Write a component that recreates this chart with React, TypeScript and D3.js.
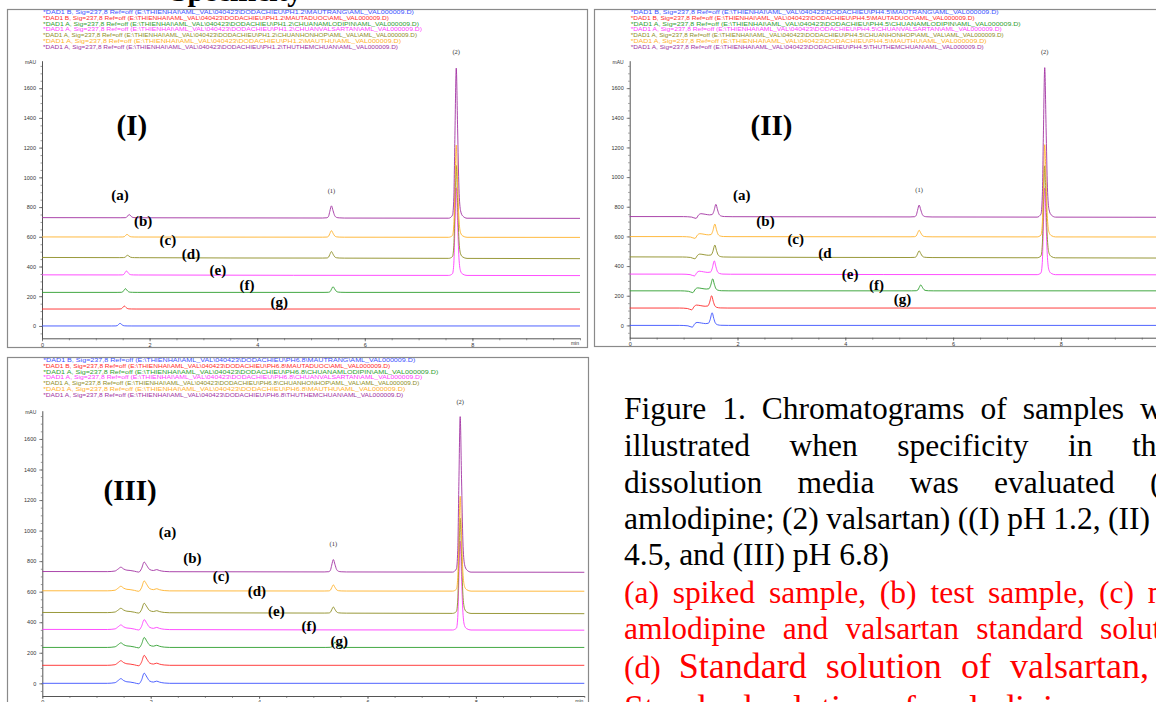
import React, { useEffect, useRef } from 'react';
import * as d3 from 'd3';

// samples, top trace to bottom trace
const SAMPLE_LABELS = ['(a)', '(b)', '(c)', '(d)', '(e)', '(f)', '(g)'];
const SAMPLE_COLORS = ['#a232a2', '#ffb22c', '#8e8e26', '#ff3cff', '#2f9e2f', '#ff2a2a', '#3c52ff'];
const SAMPLE_SIGNALS = ['DAD1 A', 'DAD1 A', 'DAD1 A', 'DAD1 A', 'DAD1 A', 'DAD1 B', 'DAD1 B'];
const SAMPLE_FILES = ['THUTHEMCHUAN', 'MAUTHU', 'CHUANHONHOP\\AML_VAL', 'CHUANVALSARTAN', 'CHUANAMLODIPIN', 'MAUTADUOC', 'MAUTRANG'];

const PANEL_NAMES = ['(I)', '(II)', '(III)'];
const PANEL_PH = ['1.2', '4.5', '6.8'];

// baseline offsets (mAU) per sample
const BASELINE_I = [729, 599, 461, 344, 226, 114, 0];
const BASELINE_II = [734, 599, 462, 346, 233, 117, 0];
const BASELINE_III = [732, 606, 464, 353, 235, 118, 0];
const DRIFT = [-5, -3, -8, -5, 0, 0, 0];

// peak (1) amlodipine
const RT1 = [5.38, 5.37, 5.37];
const H1_I = [82, 44, 44, 0, 38, 0, 0];
const H1_II = [80, 44, 45, 0, 40, 0, 0];
const H1_III = [81, 40, 40, 0, 35, 0, 0];

// peak (2) valsartan
const RT2 = [7.7, 7.7, 7.71];
const H2_I = [1010, 620, 625, 590, 0, 0, 0];
const H2_II = [1008, 622, 620, 585, 0, 0, 0];
const H2_III = [1018, 621, 623, 582, 0, 0, 0];

// early peaks
const RT_EARLY_I = [1.62, 1.58, 1.59, 1.57, 1.55, 1.53, 1.45];
const H_EARLY_I = [22, 18, 16, 27, 25, 20, 18];
const RT_EARLY_II = [1.6, 1.58, 1.58, 1.57, 1.54, 1.52, 1.53];
const H_EARLY_II = [83, 85, 81, 90, 81, 83, 85];
const SCALE_EARLY_III = [0.97, 1.0, 0.95, 1.0, 1.0, 1.0, 1.02];

// peak profile: [dt (min), fraction of height]
const PEAK_SHAPE = [[-0.14, 0], [-0.07, 0.02], [-0.045, 0.14], [-0.025, 0.55], [0, 1], [0.025, 0.6], [0.05, 0.2], [0.08, 0.05], [0.12, 0.015], [0.2, 0]];
// pH 4.5 front: [dt, mAU, fraction of peak]
const EARLY_SHAPE_II = [
  [-0.6, 0, 0], [-0.45, -3, 0], [-0.37, -12, 0], [-0.32, 12, 0], [-0.28, 20, 0], [-0.2, 16, 0],
  [-0.12, 12, 0], [-0.07, 10, 0.05], [-0.04, 6, 0.35], [0, 0, 1], [0.03, 0, 0.55], [0.06, 0, 0.18],
  [0.1, 0, 0.05], [0.16, 0, 0.01], [0.3, 0, 0]
];
// pH 6.8 front: [t, mAU]
const EARLY_SHAPE_III = [
  [1.2, 0], [1.34, 4], [1.4, 18], [1.45, 30], [1.5, 18], [1.56, 10], [1.62, 8], [1.7, 3], [1.78, -3],
  [1.83, 20], [1.88, 65], [1.93, 40], [1.98, 15], [2.05, 8], [2.11, 14], [2.16, 8], [2.25, 2], [2.35, 0]
];

// label anchors in data units [min, mAU]
const LABEL_POS_I = [[1.45, 882], [1.88, 707], [2.34, 579], [2.77, 485], [3.27, 377], [3.81, 276], [4.41, 162]];
const LABEL_POS_II = [[2.08, 880], [2.52, 707], [3.08, 584], [3.62, 489], [4.09, 348], [4.58, 274], [5.06, 180]];
const LABEL_POS_III = [[2.31, 992], [2.77, 822], [3.3, 704], [3.96, 604], [4.32, 475], [4.92, 377], [5.48, 279]];
const NAME_POS = [[1.67, 1353], [2.63, 1353], [1.62, 1264]];
const PEAK_LABEL_Y = [911, 1844];

const Y_TICKS = d3.range(0, 1601, 200);
const Y_MINOR = d3.range(-50, 1751, 50);
const X_TICKS = [0, 2, 4, 6, 8];
const X_MINOR = d3.range(0, 10.01, 0.5);

// caption lines; justified lines stretch their spaces so `to` word starts at its x
const CAPTION = [
  { y: 419, color: '#000', parts: [['Figure 1. Chromatograms of samples were', 31.5]], to: ['were', 1140] },
  { y: 456, color: '#000', parts: [['illustrated when specificity in the', 31.5]], to: ['the', 1132] },
  { y: 492.7, color: '#000', parts: [['dissolution media was evaluated ((1)', 31.5]], to: ['((1)', 1150] },
  { y: 529.3, color: '#000', parts: [['amlodipine; (2) valsartan) ((I) pH 1.2, (II) pH', 31.5]], to: ['(II)', 1108] },
  { y: 565, color: '#000', parts: [['4.5, and (III) pH 6.8)', 31.5]], to: null },
  { y: 602.7, color: '#ff0000', parts: [['(a) spiked sample, (b) test sample, (c) mixture', 31.5]], to: ['(c)', 1099] },
  { y: 639.3, color: '#ff0000', parts: [['amlodipine and valsartan standard solution,', 31.5]], to: ['solution,', 1100] },
  { y: 677.7, color: '#ff0000', parts: [['(d) ', 31.5], ['Standard solution of valsartan,', 36]], to: ['valsartan,', 1010] },
  { y: 720, color: '#ff0000', parts: [['Standard solution of amlodipine,', 36]], to: null }
];

const PANELS = [
  { box: [7, 9, 587, 347], x0: 42, x1: 580, yTop: 60.7, yBot: 338.3, base: BASELINE_I, h1: H1_I, h2: H2_I, labels: LABEL_POS_I, legendW: [371, 346, 376, 379, 374, 358, 355] },
  { box: [594, 9, 1170, 346], x0: 629.7, x1: 1168.7, yTop: 60.7, yBot: 337.7, base: BASELINE_II, h1: H1_II, h2: H2_II, labels: LABEL_POS_II, legendW: [368, 344, 390, 371, 373, 356, 353] },
  { box: [7, 357, 588, 712], x0: 42.3, x1: 584.3, yTop: 410.7, yBot: 696, base: BASELINE_III, h1: H1_III, h2: H2_III, labels: LABEL_POS_III, legendW: [372, 347, 395, 379, 376, 362, 360] }
];

function peakPoints(rt: number, h: number, widen = 1) {
  return PEAK_SHAPE.map(([dt, f]) => [rt + dt * widen, f * h]);
}

function tracePoints(p: number, i: number) {
  const P = PANELS[p];
  const b = P.base[i];
  let pts: number[][] = [[0, 0]];
  if (p === 0) {
    pts = pts.concat(peakPoints(RT_EARLY_I[i], H_EARLY_I[i], 1.1));
  } else if (p === 1) {
    pts = pts.concat(EARLY_SHAPE_II.map(([dt, v, f]) => [RT_EARLY_II[i] + dt, v + f * H_EARLY_II[i]]));
  } else {
    pts = pts.concat(EARLY_SHAPE_III.map(([t, v]) => [t, v * SCALE_EARLY_III[i]]));
  }
  if (P.h1[i] > 0) pts = pts.concat(peakPoints(RT1[p] + (i === 4 ? 0.03 : 0), P.h1[i], 1.2));
  if (P.h2[i] > 0) pts = pts.concat(peakPoints(RT2[p], P.h2[i], 1));
  pts.push([10, 0]);
  return pts.map(([t, v]) => [t, b + v + (DRIFT[i] * t) / 10]);
}

const SANS = '"Liberation Sans", Arial, sans-serif';
const SERIF = '"Liberation Serif", "Times New Roman", serif';

const App = () => {
  const ref = useRef<SVGSVGElement>(null);

  useEffect(() => {
    const svg = d3.select(ref.current);
    svg.selectAll('*').remove();
    svg.append('rect').attr('width', 1156).attr('height', 702).attr('fill', '#fff');

    // heading fragment cut by the top edge
    svg.append('text')
      .attr('x', 171).attr('y', 1)
      .style('font-family', SERIF)
      .style('font-weight', 'bold')
      .style('font-size', '29.5px')
      .text('Specificity');

    PANELS.forEach((P, p) => {
      const [bx0, by0, bx1, by1] = P.box;
      const g = svg.append('g');
      g.append('rect')
        .attr('x', bx0 + 0.5).attr('y', by0 + 0.5)
        .attr('width', bx1 - bx0).attr('height', by1 - by0)
        .attr('fill', 'none').attr('stroke', '#8a8a8a').attr('stroke-width', 1.2);

      const x = d3.scaleLinear().domain([0, 10]).range([P.x0, P.x1]);
      const y = d3.scaleLinear().domain([-83, 1785]).range([P.yBot, P.yTop]);

      // file legend, blank first
      [6, 5, 4, 3, 2, 1, 0].forEach((i, k) => {
        g.append('text')
          .attr('x', P.x0 + 1).attr('y', by0 + 5.3 + k * 5.7)
          .attr('textLength', P.legendW[k]).attr('lengthAdjust', 'spacingAndGlyphs')
          .style('font-family', SANS)
          .style('font-size', '5.6px')
          .attr('fill', SAMPLE_COLORS[i])
          .text(`*${SAMPLE_SIGNALS[i]}, Sig=237,8 Ref=off (E:\\THIENHAI\\AML_VAL\\040423\\DODACHIEU\\PH${PANEL_PH[p]}\\${SAMPLE_FILES[i]}\\AML_VAL000009.D)`);
      });

      // axes
      const axisColor = '#555';
      const yMinor = g.append('g').attr('transform', `translate(${P.x0},0)`)
        .call(d3.axisLeft(y).tickValues(Y_MINOR).tickSize(1.5).tickSizeOuter(0).tickFormat(() => ''));
      yMinor.selectAll('line').attr('stroke', axisColor).attr('stroke-width', 0.6);
      yMinor.select('.domain').attr('stroke', axisColor).attr('stroke-width', 1);
      const yMajor = g.append('g').attr('transform', `translate(${P.x0},0)`)
        .call(d3.axisLeft(y).tickValues(Y_TICKS).tickSize(3).tickSizeOuter(0).tickPadding(3).tickFormat(d3.format('d')));
      yMajor.select('.domain').remove();
      yMajor.selectAll('line').attr('stroke', axisColor).attr('stroke-width', 0.7);
      yMajor.selectAll('text').attr('fill', '#333').style('font-family', SANS).style('font-size', '5.5px');

      const xMinor = g.append('g').attr('transform', `translate(0,${P.yBot})`)
        .call(d3.axisBottom(x).tickValues(X_MINOR).tickSize(2).tickSizeOuter(0).tickFormat(() => ''));
      xMinor.selectAll('line').attr('stroke', axisColor).attr('stroke-width', 0.6);
      xMinor.select('.domain').attr('stroke', axisColor).attr('stroke-width', 1);
      const xMajor = g.append('g').attr('transform', `translate(0,${P.yBot})`)
        .call(d3.axisBottom(x).tickValues(X_TICKS).tickSize(3).tickSizeOuter(0).tickPadding(1.5));
      xMajor.select('.domain').remove();
      xMajor.selectAll('line').attr('stroke', axisColor).attr('stroke-width', 0.7);
      xMajor.selectAll('text').attr('fill', '#333').style('font-family', SANS).style('font-size', '5.5px');

      g.append('text').attr('x', P.x0 - 6).attr('y', P.yTop + 3)
        .attr('text-anchor', 'end').attr('fill', '#333')
        .style('font-family', SANS).style('font-size', '5px')
        .text('mAU');
      g.append('text').attr('x', P.x1 - 1).attr('y', P.yBot + 7)
        .attr('text-anchor', 'end').attr('fill', '#333')
        .style('font-family', SANS).style('font-size', '5px')
        .text('min');

      // traces, bottom first
      const line = d3.line<number[]>().x(d => x(d[0])).y(d => y(d[1])).curve(d3.curveMonotoneX);
      [6, 5, 4, 3, 2, 1, 0].forEach(i => {
        g.append('path')
          .attr('d', line(tracePoints(p, i)))
          .attr('fill', 'none')
          .attr('stroke', SAMPLE_COLORS[i])
          .attr('stroke-width', 1)
          .attr('stroke-opacity', 0.9);
      });

      // peak names
      [[RT1[p], PEAK_LABEL_Y[0], '(1)'], [RT2[p], PEAK_LABEL_Y[1], '(2)']].forEach(([t, v, s]) => {
        g.append('text').attr('x', x(t as number)).attr('y', y(v as number) + 2)
          .attr('text-anchor', 'middle').attr('fill', '#333')
          .style('font-family', SERIF).style('font-size', '6.5px')
          .text(s as string);
      });

      // sample labels
      P.labels.forEach(([t, v], i) => {
        g.append('text').attr('x', x(t)).attr('y', y(v) + 5)
          .attr('text-anchor', 'middle')
          .style('font-family', SERIF).style('font-weight', 'bold').style('font-size', '15px')
          .text(p === 1 && i === 3 ? '(d' : SAMPLE_LABELS[i]);
      });

      g.append('text').attr('x', x(NAME_POS[p][0])).attr('y', y(NAME_POS[p][1]) + 10)
        .attr('text-anchor', 'middle')
        .style('font-family', SERIF).style('font-weight', 'bold').style('font-size', '29px')
        .text(PANEL_NAMES[p]);
    });

    // caption, justified by stretching word gaps
    CAPTION.forEach(ln => {
      const t = svg.append('text').attr('x', 624).attr('y', ln.y).attr('fill', ln.color)
        .style('font-family', SERIF);
      ln.parts.forEach(([s, size]) => {
        t.append('tspan').style('font-size', `${size}px`).text(s as string);
      });
      if (ln.to) {
        const full = ln.parts.map(d => d[0]).join('');
        const idx = full.lastIndexOf(ln.to[0] as string);
        const node = t.node() as SVGTextElement;
        const nx = node.getStartPositionOfChar(idx).x;
        const gaps = (full.slice(0, idx).match(/ /g) || []).length;
        if (gaps > 0) t.style('word-spacing', `${((ln.to[1] as number) - nx) / gaps}px`);
      }
    });
  }, []);

  return (
    <svg ref={ref} width={1156} height={702}
      style={{ position: 'absolute', left: 0, top: 0, display: 'block' }} />
  );
};

export default App;
